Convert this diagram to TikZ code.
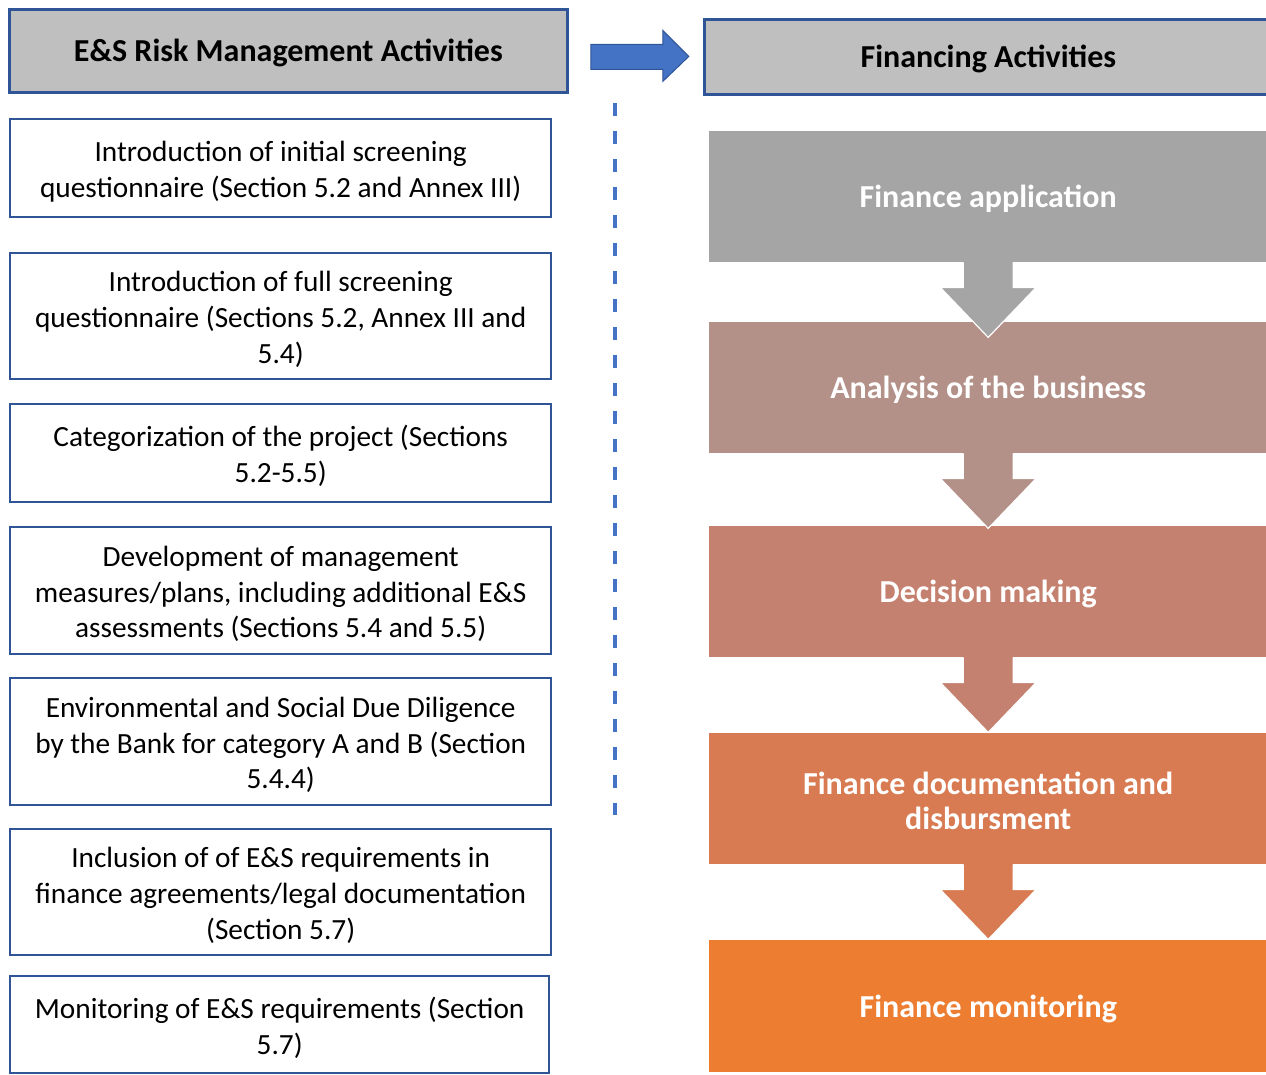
\documentclass[tikz,border=0pt]{standalone}
\usepackage{fontspec}
\setmainfont{Carlito}
\usetikzlibrary{calc}
\definecolor{frameblue}{HTML}{2F5597}
\definecolor{midblue}{HTML}{4472C4}
\definecolor{headgray}{HTML}{BFBFBF}
\definecolor{stepA}{HTML}{A5A5A5}
\definecolor{stepB}{HTML}{B39088}
\definecolor{stepC}{HTML}{C58170}
\definecolor{stepD}{HTML}{D87B52}
\definecolor{stepE}{HTML}{ED7D31}
% taller first line: pushes centred text slightly down
\newcommand\firstline{\rule{0pt}{27pt}}
\begin{document}
\begin{tikzpicture}[x=1pt,y=-1pt,
  txt/.style={font=\fontsize{29.3}{35.8}\selectfont},
  boldtxt/.style={font=\fontsize{32}{35}\selectfont\bfseries},
  header/.style={draw=frameblue, line width=2.8pt, fill=headgray, anchor=north west,
    inner sep=0pt, boldtxt},
  esbox/.style={draw=frameblue, line width=2.4pt, fill=white, anchor=north west,
    inner sep=0pt, minimum width=541pt, align=center, txt},
  finbox/.style={fill=#1, anchor=north west, inner sep=0pt, minimum width=558pt,
    minimum height=131pt, align=center, text=white, boldtxt}
]
\useasboundingbox (0,0) rectangle (1266,1074);

% column headers
\node[header, minimum width=558pt, minimum height=83pt] (hl) at (8,8) {\firstline E\&S Risk Management Activities};
\node[header, minimum width=568pt, minimum height=75pt] (hr) at (703,18) {\firstline Financing Activities};

% block arrow between the headers
\fill[midblue, draw=frameblue, line width=1pt]
  ($(hl.east)+(22,-6.5)$) -- ++(72,0) -- ++(0,-14) -- ($(hl.east)+(120,5.5)$)
  -- ($(hl.east)+(94,30.5)$) -- ++(0,-12) -- ($(hl.east)+(22,18.5)$) -- cycle;

% dashed separator
\coordinate (dtop) at (615,103);
\coordinate (dbot) at (615,815);
\draw[midblue, line width=3.2pt, dash pattern=on 13pt off 15pt] (dtop) -- (dbot);

% E&S risk management activities
\node[esbox, minimum height=98pt]  (l1) at (9,118) {\firstline Introduction of initial screening\\questionnaire (Section 5.2 and Annex III)};
\node[esbox, minimum height=126pt] (l2) at (9,252) {\firstline Introduction of full screening\\questionnaire (Sections 5.2, Annex III and\\5.4)};
\node[esbox, minimum height=98pt]  (l3) at (9,403) {\firstline Categorization of the project (Sections\\5.2-5.5)};
\node[esbox, minimum height=127pt] (l4) at (9,526) {\firstline Development of management\\measures/plans, including additional E\&S\\assessments (Sections 5.4 and 5.5)};
\node[esbox, minimum height=127pt] (l5) at (9,677) {\firstline Environmental and Social Due Diligence\\by the Bank for category A and B (Section\\5.4.4)};
\node[esbox, minimum height=126pt] (l6) at (9,828) {\firstline Inclusion of of E\&S requirements in\\finance agreements/legal documentation\\(Section 5.7)};
\node[esbox, minimum height=97pt, minimum width=539pt] (l7) at (9,975) {\firstline Monitoring of E\&S requirements (Section\\5.7)};

% financing activities
\node[finbox=stepA] (r1) at (709,131) {\firstline Finance application};
\node[finbox=stepB] (r2) at (709,322) {\firstline Analysis of the business};
\node[finbox=stepC] (r3) at (709,526) {\firstline Decision making};
\node[finbox=stepD] (r4) at (709,733) {\firstline Finance documentation and\\disbursment};
\node[finbox=stepE, minimum height=132pt] (r5) at (709,940) {\firstline Finance monitoring};

% downward flow arrows
\foreach \a/\c in {r1/stepA, r2/stepB, r3/stepC, r4/stepD}{
  \fill[\c] ($(\a.south)+(-25,-1)$) -- ++(0,26) -- ++(-23,0) -- ($(\a.south)+(0,75)$)
    -- ++(48,-50) -- ++(-23,0) -- ++(0,-26) -- cycle;
  \draw[white, line width=1.2pt, line join=miter] ($(\a.south)+(-25,0)$) -- ++(0,25) -- ++(-23,0)
    -- ($(\a.south)+(0,75)$) -- ++(48,-50) -- ++(-23,0) -- ++(0,-25);
}
\end{tikzpicture}
\end{document}
